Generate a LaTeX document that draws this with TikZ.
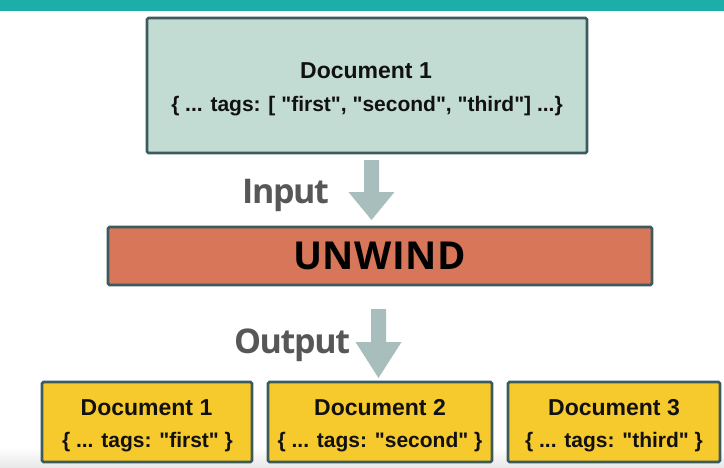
\documentclass[tikz,border=0pt]{standalone}
\usepackage{fontspec}
\setmainfont{Liberation Sans}[Ligatures=TeXOff]
\newfontfamily\labelfont{Open Sans}[LetterSpace=-4]
\newfontfamily\stagefont{Open Sans}[LetterSpace=1]
\usetikzlibrary{positioning}

\definecolor{barteal}{HTML}{1DAEA9}
\definecolor{srcfill}{HTML}{C2DCD3}
\definecolor{edge}{HTML}{3C5B5F}
\definecolor{stagefill}{HTML}{D87659}
\definecolor{outfill}{HTML}{F6C92C}
\definecolor{flowgray}{HTML}{A7BEBC}
\definecolor{labelgray}{HTML}{575757}
\definecolor{inkblack}{HTML}{111111}

\tikzset{
  docbox/.style={draw=edge, line width=2.6pt, rounded corners=1.5pt, inner sep=0pt},
  titletext/.style={anchor=base, inner sep=0pt, text=inkblack, font=\fontsize{23}{23}\selectfont\bfseries},
  bodytext/.style={anchor=base, inner sep=0pt, text=inkblack, font=\fontsize{21}{21}\selectfont\bfseries},
  flowlabel/.style={anchor=base, inner sep=0pt, text=labelgray, font=\labelfont\fontsize{34}{34}\selectfont\bfseries},
  flowarrow/.style={fill=flowgray},
}

% block arrow: centre x, top y, neck y, tip y
\newcommand\blockarrow[4]{%
  \fill[flowarrow] (#1-7.5,#2) -- (#1+7.5,#2) -- (#1+7.5,#3) -- (#1+23,#3)
    -- (#1,#4) -- (#1-23,#3) -- (#1-7.5,#3) -- cycle;}

\begin{document}
\begin{tikzpicture}[x=1pt,y=-1pt]
\useasboundingbox (0,0) rectangle (724,467);

% header band and faint floor shadow
\fill[barteal] (0,0) rectangle (724,10.5);
\shade[top color=white, bottom color=black!9] (0,448) rectangle (724,467);

% input document
\node[docbox, fill=srcfill, minimum width=440pt, minimum height=135pt] (src) at (367,85.5) {};
\node[titletext] (srctitle) at (366,78) {Document 1};
\node[bodytext] (srcbody) at (367,111.5) {\{ ... tags: [ "first", "second", "third"] ...\}};

% stage
\node[flowlabel] (inlabel) at (285.5,203) {Input};
\blockarrow{371.5}{160}{192}{220}
\node[docbox, fill=stagefill, minimum width=544pt, minimum height=58pt] (stage) at (380,256) {};
\node[anchor=base, inner sep=0pt, text=black, font=\stagefont\fontsize{38.5}{38.5}\selectfont\bfseries] (stagename) at (379.5,269) {UNWIND};

% output documents
\node[flowlabel] (outlabel) at (292,353) {Output};
\blockarrow{378.5}{309}{342}{378}

\node[docbox, fill=outfill, minimum width=210pt, minimum height=80pt] (out1) at (147,422) {};
\node[docbox, fill=outfill, minimum width=224pt, minimum height=80pt] (out2) at (380,422) {};
\node[docbox, fill=outfill, minimum width=212pt, minimum height=80pt] (out3) at (614,422) {};

\node[titletext] (t1) at (146.5,415) {Document 1};
\node[bodytext]  (b1) at (147.5,447) {\{ ... tags: "first" \}};
\node[titletext] (t2) at (380,415) {Document 2};
\node[bodytext]  (b2) at (380,447) {\{ ... tags: "second" \}};
\node[titletext] (t3) at (614,415) {Document 3};
\node[bodytext]  (b3) at (614,447) {\{ ... tags: "third" \}};
\end{tikzpicture}
\end{document}
